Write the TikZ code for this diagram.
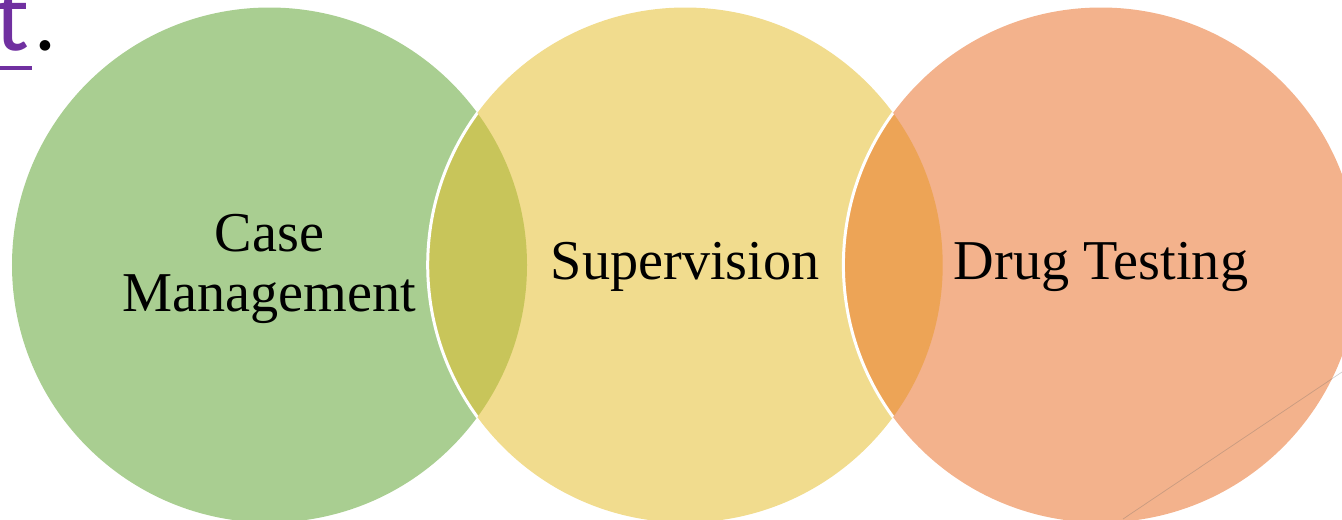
\documentclass[tikz,border=0pt]{standalone}
\usepackage{fontspec}
\setmainfont{Liberation Serif}
\newfontfamily\linkfont{Lato}
\usetikzlibrary{positioning}
\definecolor{casegreen}{RGB}{169,206,145}
\definecolor{supyellow}{RGB}{241,220,142}
\definecolor{drugorange}{RGB}{243,178,140}
\definecolor{lensolive}{RGB}{200,197,90}
\definecolor{lensamber}{RGB}{237,164,86}
\definecolor{linkpurple}{RGB}{112,48,160}
\begin{document}
\begin{tikzpicture}[
    ring/.style={circle,minimum size=10.3cm,inner sep=0pt,draw=none},
    lbl/.style={align=center,font=\fontsize{32}{34}\selectfont}]
                \useasboundingbox (0,0) rectangle (26.84,-10.38);
                % draw circles
                \node[ring,fill=casegreen] (case) at (5.39,-5.30) {};
                \node[ring,fill=supyellow,right=-2cm of case] (superv) {};
                \node[ring,fill=drugorange,right=-2cm of superv] (drug) {};
                % draw overlaps
                \begin{scope}
                \clip (case.center) circle (5.15cm);
                \fill[lensolive] (superv.center) circle (5.15cm);
                \draw[white,line width=0.06cm] (superv.center) circle (5.15cm);
                \end{scope}
                \begin{scope}
                \clip (superv.center) circle (5.15cm);
                \fill[lensamber] (drug.center) circle (5.15cm);
                \draw[white,line width=0.06cm] (drug.center) circle (5.15cm);
                \end{scope}
                % draw labels
                \node[lbl] (casetxt) at ([yshift=-0.08cm]case.center) {Case\\Management};
                \node[lbl] (supervtxt) at ([yshift=-0.04cm]superv.center) {Supervision};
                \node[lbl] (drugtxt) at ([yshift=-0.04cm]drug.center) {Drug Testing};
                % draw thin line
                \coordinate (lstart) at (22.46,-10.38);
                \coordinate (lend) at (26.84,-7.44);
                \draw[black!60,opacity=0.3] (lstart) -- (lend);
                % draw cut text
                \node[anchor=base west,inner sep=0pt,text=linkpurple,font=\linkfont\fontsize{54}{56}\selectfont] (tletter) at (-0.12,-1.0) {t};
                \node[anchor=base west,inner sep=0pt,font=\linkfont\fontsize{48}{50}\selectfont] (tdot) at (0.70,-1.0) {.};
                \draw[linkpurple,line width=0.08cm] (0,-1.36) -- (0.64,-1.36);
\end{tikzpicture}
\end{document}
